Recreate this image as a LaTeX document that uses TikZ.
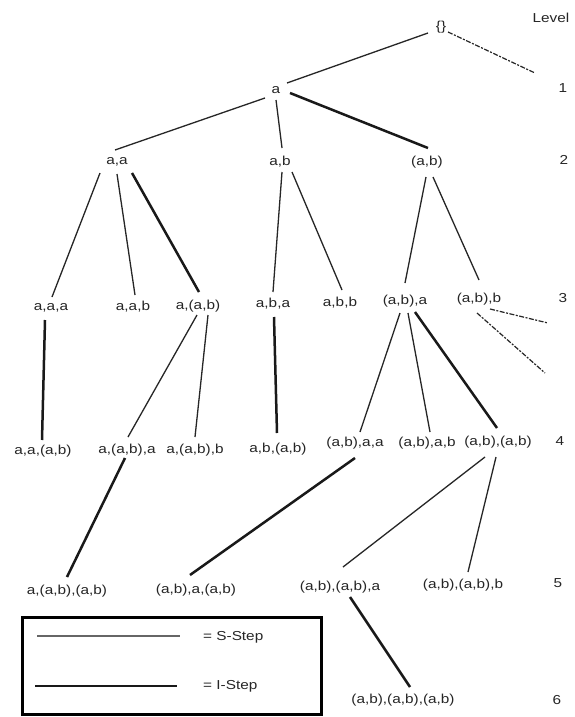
\documentclass[tikz,border=0pt]{standalone}
\usepackage{fontspec}
\setmainfont{Liberation Sans}[FakeStretch=1.18]
\begin{document}
\begin{tikzpicture}[x=1pt,y=-1pt,
  lbl/.style={inner sep=0pt,text=black!85,font=\fontsize{13}{15}\selectfont},
  sstep/.style={line width=1.3pt,draw=black!85},
  istep/.style={line width=2.5pt,draw=black!90},
  cont/.style={line width=1.2pt,draw=black!85,dash pattern=on 5pt off 1.5pt on 2pt off 1.5pt}]
\useasboundingbox[fill=white] (0,0) rectangle (574,717);

% sequence nodes, level by level
\node[lbl] (root) at (441,27) {\{\}};
\node[lbl] (a) at (276,90) {a};
\node[lbl] (aa) at (117,162) {a,a};
\node[lbl] (ab) at (280,162) {a,b};
\node[lbl] (pab) at (427,162) {(a,b)};
\node[lbl] (aaa) at (51,308) {a,a,a};
\node[lbl] (aab) at (133,307) {a,a,b};
\node[lbl] (apab) at (198,306) {a,(a,b)};
\node[lbl] (aba) at (273,304) {a,b,a};
\node[lbl] (abb) at (340,303) {a,b,b};
\node[lbl] (paba) at (405,301) {(a,b),a};
\node[lbl] (pabb) at (479,299) {(a,b),b};
\node[lbl] (aapab) at (43,451) {a,a,(a,b)};
\node[lbl] (apaba) at (127,450) {a,(a,b),a};
\node[lbl] (apabb) at (195,450) {a,(a,b),b};
\node[lbl] (abpab) at (278,449) {a,b,(a,b)};
\node[lbl] (pabaa) at (355,443) {(a,b),a,a};
\node[lbl] (pabab) at (427,443) {(a,b),a,b};
\node[lbl] (pabpab) at (498,442) {(a,b),(a,b)};
\node[lbl] (apabpab) at (67,591) {a,(a,b),(a,b)};
\node[lbl] (pabapab) at (196,590) {(a,b),a,(a,b)};
\node[lbl] (pabpaba) at (340,587) {(a,b),(a,b),a};
\node[lbl] (pabpabb) at (463,585) {(a,b),(a,b),b};
\node[lbl] (pabpabpab) at (403,700) {(a,b),(a,b),(a,b)};

% level column
\node[lbl] (lvl) at (551,18) {Level};
\node[lbl] (l1) at (563,88) {1};
\node[lbl] (l2) at (564,160) {2};
\node[lbl] (l3) at (563,298) {3};
\node[lbl] (l4) at (560,441) {4};
\node[lbl] (l5) at (558,583) {5};
\node[lbl] (l6) at (557,700) {6};

% S-steps
\draw[sstep] ([shift={(-13,6)}]root.center) -- ([shift={(11,-7)}]a.center);
\draw[sstep] ([shift={(-11,8)}]a.center) -- ([shift={(-2,-12)}]aa.center);
\draw[sstep] ([shift={(0,10)}]a.center) -- ([shift={(2,-14)}]ab.center);
\draw[sstep] ([shift={(-17,11)}]aa.center) -- ([shift={(1,-11)}]aaa.center);
\draw[sstep] ([shift={(0,12)}]aa.center) -- ([shift={(2,-12)}]aab.center);
\draw[sstep] ([shift={(2,10)}]ab.center) -- ([shift={(0,-12)}]aba.center);
\draw[sstep] ([shift={(12,10)}]ab.center) -- ([shift={(2,-13)}]abb.center);
\draw[sstep] ([shift={(-1,15)}]pab.center) -- ([shift={(0,-18)}]paba.center);
\draw[sstep] ([shift={(6,15)}]pab.center) -- ([shift={(0,-19)}]pabb.center);
\draw[sstep] ([shift={(-1,9)}]apab.center) -- ([shift={(1,-13)}]apaba.center);
\draw[sstep] ([shift={(10,9)}]apab.center) -- ([shift={(0,-13)}]apabb.center);
\draw[sstep] ([shift={(-5,12)}]paba.center) -- ([shift={(5,-11)}]pabaa.center);
\draw[sstep] ([shift={(3,12)}]paba.center) -- ([shift={(3,-11)}]pabab.center);
\draw[sstep] ([shift={(-13,15)}]pabpab.center) -- ([shift={(3,-20)}]pabpaba.center);
\draw[sstep] ([shift={(-2,15)}]pabpab.center) -- ([shift={(5,-13)}]pabpabb.center);

% I-steps
\draw[istep] ([shift={(14,3)}]a.center) -- ([shift={(1,-14)}]pab.center);
\draw[istep] ([shift={(15,11)}]aa.center) -- ([shift={(1,-14)}]apab.center);
\draw[istep] ([shift={(-6,12)}]aaa.center) -- ([shift={(-1,-11)}]aapab.center);
\draw[istep] ([shift={(1,13)}]aba.center) -- ([shift={(-1,-16)}]abpab.center);
\draw[istep] ([shift={(10,11)}]paba.center) -- ([shift={(-1,-14)}]pabpab.center);
\draw[istep] ([shift={(-2,8)}]apaba.center) -- ([shift={(0,-14)}]apabpab.center);
\draw[istep] ([shift={(0,15)}]pabaa.center) -- ([shift={(-6,-15)}]pabapab.center);
\draw[istep] ([shift={(10,10)}]pabpaba.center) -- ([shift={(7,-13)}]pabpabpab.center);

% branches that continue beyond the drawing
\coordinate (rootmore) at (535,73);
\coordinate (pabbmore1) at (548,323);
\coordinate (pabbmore2) at (545,373);
\draw[cont] ([shift={(7,5)}]root.center) -- (rootmore);
\draw[cont] ([shift={(11,10)}]pabb.center) -- (pabbmore1);
\draw[cont] ([shift={(-2,14)}]pabb.center) -- (pabbmore2);

% legend
\draw[line width=3pt,draw=black] (22,617) rectangle (321,714);
\draw[line width=1.3pt,draw=black!60] (37,636) -- (180,636);
\draw[istep] (35,686) -- (177,686);
\node[lbl,anchor=west] (sleg) at (203,637) {= S-Step};
\node[lbl,anchor=west] (ileg) at (203,686) {= I-Step};
\end{tikzpicture}
\end{document}
